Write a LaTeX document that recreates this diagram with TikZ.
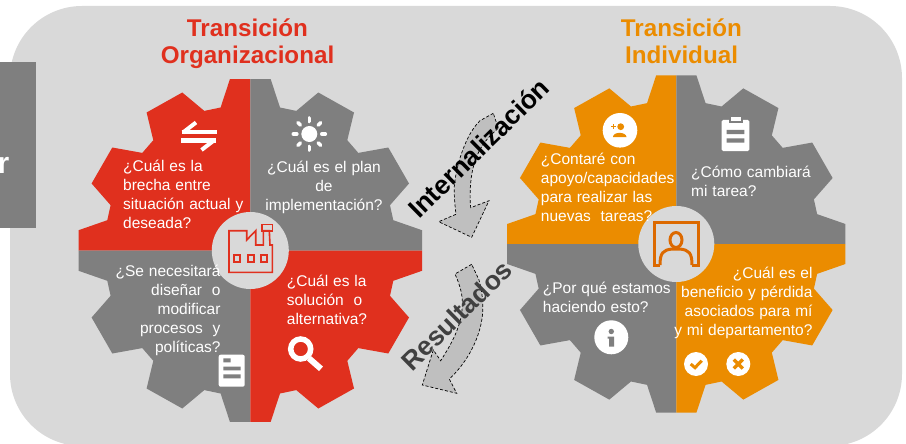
\documentclass[tikz,border=0pt]{standalone}
\usepackage{fontspec}
\setmainfont{Liberation Sans}
\usetikzlibrary{calc,positioning}

\definecolor{panelgrey}{HTML}{D9D9D9}
\definecolor{geargrey}{HTML}{7F7F7F}
\definecolor{gearred}{HTML}{E0301E}
\definecolor{gearorange}{HTML}{EB8C00}
\definecolor{boardorange}{HTML}{DC6900}
\definecolor{arrowgrey}{HTML}{BFBFBF}

\newcommand{\gearquad}{(0,-171.3) -- (20.4,-171.3) -- (29.7,-143) -- (46,-139.6) -- (68,-158) -- (103.7,-138)
	-- (97,-110.3) -- (108,-97.6) -- (138,-103) -- (158.7,-67) -- (139.7,-45.3) -- (143,-30.3)
	-- (171.7,-20.3) -- (171.7,0) -- (0,0) -- cycle}

\tikzset{
	title/.style={font=\fontsize{24.2}{27}\selectfont\bfseries,align=center,inner sep=0pt},
	question/.style={font=\fontsize{15.5}{19}\selectfont,text=white,inner sep=0pt,execute at begin node={\spaceskip=4.9pt\relax}},
	hub/.style={circle,fill=panelgrey,minimum size=77pt,inner sep=0pt},
	flow/.style={fill=arrowgrey,draw=black,densely dashed,line width=.7pt},
	flowtext/.style={font=\fontsize{26.5}{28}\selectfont\bfseries,rotate=44.5,inner sep=0pt},
	whiteicon/.style={fill=white,draw=none}
}

\begin{document}
\begin{tikzpicture}[x=1pt,y=-1pt]
	\useasboundingbox (0,0) rectangle (906,444);
	\fill[panelgrey,rounded corners=72pt] (10,6) rectangle (902,446);
	\fill[geargrey] (0,62) rectangle (36,228);
	\node[font=\fontsize{30}{30}\selectfont\bfseries,text=white,anchor=base east,inner sep=0pt] (sidelabel) at (9.5,173) {r};

	% left gear
	\begin{scope}[shift={(250.3,250.5)}]
		\fill[gearred,xscale=-1] \gearquad;
		\fill[geargrey] \gearquad;
		\fill[geargrey,xscale=-1,yscale=-1] \gearquad;
		\fill[gearred,yscale=-1] \gearquad;
	\end{scope}
	% right gear
	\begin{scope}[shift={(676.3,244)},scale=.985]
		\fill[gearorange,xscale=-1] \gearquad;
		\fill[geargrey] \gearquad;
		\fill[geargrey,xscale=-1,yscale=-1] \gearquad;
		\fill[gearorange,yscale=-1] \gearquad;
	\end{scope}

	\node[hub] (hub_org) at (250.3,250.5) {};
	\node[hub,minimum size=76pt] (hub_ind) at (676.3,244) {};

	\node[title,text=gearred] (title_org) at (247.5,44) {Transición\\Organizacional};
	\node[title,text=gearorange] (title_ind) at (681.5,41) {Transición\\Individual};

	\node[question,anchor=west,align=left] (q_gap) at (123,194.7) {¿Cuál es la\\brecha entre\\situación actual y\\deseada?};
	\node[question,align=center] (q_plan) at (324,187.7) {¿Cuál es el plan\\de\\implementación?};
	\node[question,anchor=east,align=right] (q_design) at (220.7,310.5) {¿Se necesitará\\diseñar\ \ o\\modificar\\procesos\ \ y\\políticas?};
	\node[question,anchor=west,align=left] (q_solution) at (286.7,300) {¿Cuál es la\\solución\ \ o\\alternativa?};
	\node[question,anchor=west,align=left] (q_support) at (540.7,187.7) {¿Contaré con\\apoyo/capacidades\\para realizar las\\nuevas\ \ tareas?};
	\node[question,anchor=west,align=left] (q_task) at (691,181.5) {¿Cómo cambiará\\mi tarea?};
	\node[question,anchor=west,align=left] (q_why) at (542.7,297.5) {¿Por qué estamos\\haciendo esto?};
	\node[question,anchor=east,align=right] (q_benefit) at (812.7,302.5) {¿Cuál es el\\beneficio y pérdida\\asociados para mí\\y mi departamento?};

	% block arrows between the gears
	\draw[flow] (493.3,113.3) -- (480,120.7) .. controls (466,134) and (456,165) .. (454.3,186.7)
		.. controls (454,197) and (455,206) .. (456,214.3) -- (438.7,221.7) -- (471.7,237.3) -- (489,200.7) -- (470.7,207.7)
		.. controls (469,190) and (471,170) .. (476.7,156.7) .. controls (481,145) and (490,135) .. (498.3,128.3) -- cycle;
	\draw[flow] (471.7,264.3) -- (455,274) .. controls (460,285) and (463,296) .. (462.3,305)
		.. controls (462,325) and (452,343) .. (440.7,360.7) -- (433.3,350) -- (422.3,385) -- (456.7,393.3) -- (449.3,379)
		.. controls (470,360) and (484,330) .. (482.7,305) .. controls (482.5,295) and (481,287) .. (479,280) -- cycle;
	\node[flowtext,text=black] (lbl_intern) at (478.5,148) {Internalización};
	\node[flowtext,text=black!75] (lbl_result) at (456.5,315.5) {Resultados};

	% swap arrows
	\draw[white,line width=4.4pt] (181.7,132) -- (216.7,132) (181,140.5) -- (216,140.5);
	\draw[white,line width=4pt] (183,132.5) -- (196,122.5) (214.5,140) -- (201.5,150);
	% sun
	\fill[whiteicon] (309.3,134) circle (8);
	\foreach \a in {0,45,...,315}
		\draw[white,line width=3.6pt,line cap=round] ($(309.3,134)+(\a:12.5)$) -- ($(309.3,134)+(\a:16)$);
	% magnifier
	\draw[white,line width=5.5pt] (300.7,349) circle (10);
	\draw[white,line width=6pt] (309,358.3) -- (321,368.8);
	% document
	\fill[whiteicon,rounded corners=2pt] (218.7,354.7) rectangle (244.7,386.7);
	\fill[geargrey] (223.3,358.3) rectangle (230.7,362.3) (223.3,366.5) rectangle (240.7,370.3) (223.3,374.3) rectangle (240.7,378.3);
	% person with plus
	\fill[whiteicon] (620,130.3) circle (17.3);
	\fill[gearorange] (620.7,126.7) circle (3.4);
	\fill[gearorange] (613,137) .. controls (613,131.5) and (626,131.5) .. (626.5,137) -- cycle;
	\draw[gearorange,line width=1.2pt] (611,126.7) -- (616,126.7) (613.5,124.2) -- (613.5,129.2);
	% clipboard
	\fill[whiteicon,rounded corners=1.5pt] (721.7,120) rectangle (749.3,151);
	\fill[geargrey] (729,117) rectangle (742.5,123.2);
	\fill[whiteicon] (731,117.3) rectangle (740.5,121);
	\fill[geargrey] (726.7,130) rectangle (744.3,134) (726.7,138.3) rectangle (744.3,142.7);
	% info
	\fill[whiteicon] (611.3,337.3) circle (17);
	\fill[geargrey] (611.3,331.5) circle (2.7);
	\fill[geargrey] (607.5,336.7) -- (614,336.7) -- (614,346.7) -- (609,346.7) -- (609,338.5) -- (607.5,338.5) -- cycle;
	% check and cross
	\fill[whiteicon] (696,364) circle (12);
	\draw[gearorange,line width=3pt] (690.7,364) -- (695,367.7) -- (701.7,360.7);
	\fill[whiteicon] (738.3,364) circle (12);
	\draw[gearorange,line width=3.4pt] (733.8,359.5) -- (742.8,368.5) (733.8,368.5) -- (742.8,359.5);
	% factory
	\draw[gearred,line width=1.6pt] (229,230.7) -- (246.7,230.7) -- (246.7,240) -- (255.7,230.7) -- (255.7,245) -- (263.3,245)
		-- (263.3,230.7) -- (269.3,230.7) -- (270,245) -- (272.3,245) -- (272.3,272.3) -- (229,272.3) -- cycle;
	\draw[gearred,line width=1.6pt] (261.7,224.3) rectangle (272.3,230.7);
	\draw[gearred,line width=1.6pt] (234,255) rectangle (240,261.7) (247.7,255) rectangle (253.7,261.7) (261,255) rectangle (266.7,261.7);
	% person at the board
	\draw[boardorange,line width=3pt] (660,265) -- (654.3,265) -- (654.3,222.3) -- (698.3,222.3) -- (698.3,265) -- (692,265);
	\draw[boardorange,line width=3pt] (660,265) .. controls (660,253) and (663,250) .. (672,249)
		-- (680,249) .. controls (689,250) and (692,253) .. (692,265);
	\draw[boardorange,line width=3pt] (676,240) ellipse (6 and 7.5);
\end{tikzpicture}
\end{document}
